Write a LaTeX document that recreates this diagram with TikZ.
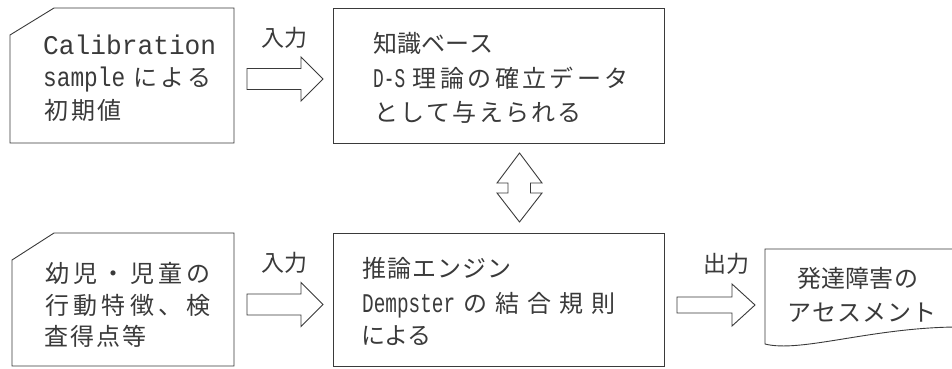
\documentclass[tikz,border=0pt]{standalone}
\usepackage{fontspec}
\usepackage{graphicx}
\setmainfont{Noto Sans CJK JP}
\newfontfamily\mono{Liberation Mono}
\usetikzlibrary{calc}
\newcommand\spc[2]{\def\cjw{#1}\spcloop#2\relax}
\def\spcloop#1{\ifx#1\relax\else\makebox[\cjw][c]{#1}\expandafter\spcloop\fi}
\newcommand\lat[2]{\resizebox{#1}{\height}{\mono\fontsize{27}{27}\selectfont #2}}
\definecolor{ln}{HTML}{3A3A3A}
\definecolor{tx}{HTML}{3A3A3A}
\tikzset{
  shp/.style={draw=ln, line width=0.9pt, fill=white, line join=miter},
  blk/.style={draw=ln, line width=0.9pt, fill=white, line join=miter},
  txt/.style={anchor=base west, inner sep=0pt, text=tx, font=\fontsize{24}{24}\selectfont},
  lbl/.style={anchor=center, inner sep=0pt, text=tx, font=\fontsize{23}{23}\selectfont}
}
\begin{document}
\begin{tikzpicture}[x=1pt,y=-1pt]
\useasboundingbox (0,0) rectangle (952,368);
% shapes
\draw[shp] (10,35) -- (54,8) -- (234,8) -- (234,143) -- (10,143) -- cycle;
\node[shp, minimum width=331pt, minimum height=135pt, anchor=north west, inner sep=0pt] (kb) at (333,8) {};
\draw[shp] (12,260) -- (54,233) -- (234,233) -- (234,366) -- (12,366) -- cycle;
\node[shp, minimum width=331pt, minimum height=133pt, anchor=north west, inner sep=0pt] (ie) at (333,233) {};
\draw[shp] (765,249) -- (955,249) -- (955,327) .. controls (870,328) and (800,353) .. (765,344) -- cycle;
% texts top-left
\node[txt] (tl1) at (43,54) {\lat{173pt}{Calibration}};
\node[txt] (tl2) at (43,86) {\lat{82pt}{sample}\hspace{7pt}\spc{27pt}{による}};
\node[txt] (tl3) at (43,119) {\spc{26.7pt}{初期値}};
% top box
\node[txt] (kb1) at (373,52) {\spc{24pt}{知識ベース}};
\node[txt] (kb2) at (373,87) {\lat{32pt}{D-S}\hspace{6pt}\spc{27.4pt}{理論の確立データ}};
\node[txt] (kb3) at (373,121) {\spc{26.2pt}{として与えられる}};
% bottom-left
\node[txt] (bl1) at (43,282) {\spc{28.3pt}{幼児・児童の}};
\node[txt] (bl2) at (43,314) {\spc{28.3pt}{行動特徴、検}};
\node[txt] (bl3) at (43,345) {\spc{26pt}{査得点等}};
% bottom box
\node[txt] (ie1) at (362,277) {\spc{25pt}{推論エンジン}};
\node[txt] (ie2) at (362,312) {\lat{93pt}{Dempster}\hspace{4pt}\spc{32pt}{の結合規則}};
\node[txt] (ie3) at (362,344) {\spc{22.8pt}{による}};
% document
\node[txt] (d1) at (797,287) {\spc{24.2pt}{発達障害の}};
\node[txt] (d2) at (787,321) {\spc{25pt}{アセスメント}};
% labels
\node[lbl] (in1) at (284,38) {入力};
\node[lbl] (in2) at (284,263) {入力};
\node[lbl] (out) at (726,264) {出力};
% block arrows
\coordinate (a1s) at (247,79);  \coordinate (a1e) at (323,79);
\draw[blk] (a1s) ++(0,-10.5) -- ++(54,0) -- ++(0,-11.5) -- (a1e) -- ++(-22,22) -- ++(0,-11.5) -- ++(-54,0) -- cycle;
\coordinate (a2s) at (247,304.5);  \coordinate (a2e) at (323,304.5);
\draw[blk] (a2s) ++(0,-10.5) -- ++(54,0) -- ++(0,-11.5) -- (a2e) -- ++(-22,22) -- ++(0,-11.5) -- ++(-54,0) -- cycle;
\coordinate (a3s) at (677,305);  \coordinate (a3e) at (755,305);
\draw[blk] (a3s) ++(0,-8) -- ++(55,0) -- ++(0,-13) -- (a3e) -- ++(-23,21) -- ++(0,-13) -- ++(-55,0) -- cycle;
% double arrow
\coordinate (dt) at (519.5,153); \coordinate (db) at (519.5,222);
\draw[blk] (dt) -- ++(22.5,30) -- ++(-11.5,0) -- ++(0,10) -- ++(11.5,0) -- (db) -- ++(-22.5,-29) -- ++(11,0) -- ++(0,-10) -- ++(-11,0) -- cycle;
\end{tikzpicture}
\end{document}
